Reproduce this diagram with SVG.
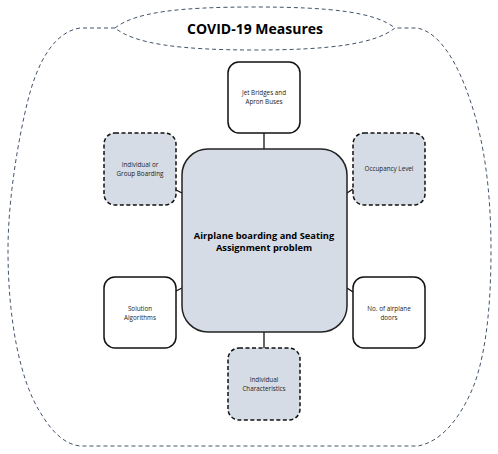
<svg xmlns="http://www.w3.org/2000/svg" width="498" height="454" viewBox="0 0 498 454">
<style>
.outer{fill:none;stroke:#44546a;stroke-width:1;stroke-dasharray:4,3}
.solid{fill:#ffffff;stroke:#111;stroke-width:1.5}
.dash{fill:#d6dce5;stroke:#111;stroke-width:1.5;stroke-dasharray:4,2.5}
.center{fill:#d6dce5;stroke:#222;stroke-width:1.5}
.lbl{font-family:"Open Sans","Liberation Sans",sans-serif;font-size:6.3px;fill:#222;text-anchor:middle}
.big{font-family:"Open Sans","Liberation Sans",sans-serif;font-weight:bold;fill:#000;text-anchor:middle}
.conn{stroke:#111;stroke-width:1.3;fill:none}
</style>
<rect width="498" height="454" fill="#fff"/>
<g id="frame">
<path class="outer" d="M115,28 L80,28 C55,32 38,60 28,100 C18,140 8,200 8,250 C8,320 20,380 40,412 C52,432 64,444 80,446 L418,446 C440,442 460,420 474,385 C487,350 491,300 491,250 C491,190 484,140 470,100 C458,64 440,32 417,28 L395,28"/>
</g>
<g id="title">
<path class="outer" d="M115,28 C135,12 180,7 255,7 C330,7 375,12 395,28 C375,44 330,50 255,50 C180,50 135,44 115,28 Z"/>
<text class="big" x="255" y="34" font-size="14">COVID-19 Measures</text>
</g>
<g id="connectors">
<line class="conn" x1="264" y1="133" x2="264" y2="149"/>
<line class="conn" x1="264" y1="332" x2="264" y2="348"/>
<line class="conn" x1="176" y1="190" x2="182" y2="193"/>
<line class="conn" x1="347" y1="193" x2="353" y2="189"/>
<line class="conn" x1="176" y1="291" x2="182" y2="288"/>
<line class="conn" x1="347" y1="288" x2="353" y2="292"/>
</g>
<g id="center">
<rect class="center" x="182" y="149" width="165" height="183" rx="26"/>
<text class="big" font-size="9.3" x="264" y="238.5">Airplane boarding and Seating</text>
<text class="big" font-size="9.3" x="264" y="250.5">Assignment problem</text>
</g>
<g id="jet">
<rect class="solid" x="228" y="62" width="72" height="71" rx="11"/>
<text class="lbl" x="264" y="94.5">Jet Bridges and</text>
<text class="lbl" x="264" y="103.5">Apron Buses</text>
</g>
<g id="group">
<rect class="dash" x="104" y="133" width="72" height="72" rx="11"/>
<text class="lbl" x="140" y="166.5">Individual or</text>
<text class="lbl" x="140" y="175.5">Group Boarding</text>
</g>
<g id="occupancy">
<rect class="dash" x="353" y="133" width="72" height="72" rx="11"/>
<text class="lbl" x="389" y="170.5">Occupancy Level</text>
</g>
<g id="solution">
<rect class="solid" x="104" y="277" width="72" height="71" rx="11"/>
<text class="lbl" x="140" y="310.5">Solution</text>
<text class="lbl" x="140" y="319.5">Algorithms</text>
</g>
<g id="doors">
<rect class="solid" x="353" y="277" width="72" height="71" rx="11"/>
<text class="lbl" x="389" y="310.5">No. of airplane</text>
<text class="lbl" x="389" y="319.5">doors</text>
</g>
<g id="characteristics">
<rect class="dash" x="228" y="348" width="72" height="72" rx="11"/>
<text class="lbl" x="264" y="381.5">Individual</text>
<text class="lbl" x="264" y="390.5">Characteristics</text>
</g>
</svg>
